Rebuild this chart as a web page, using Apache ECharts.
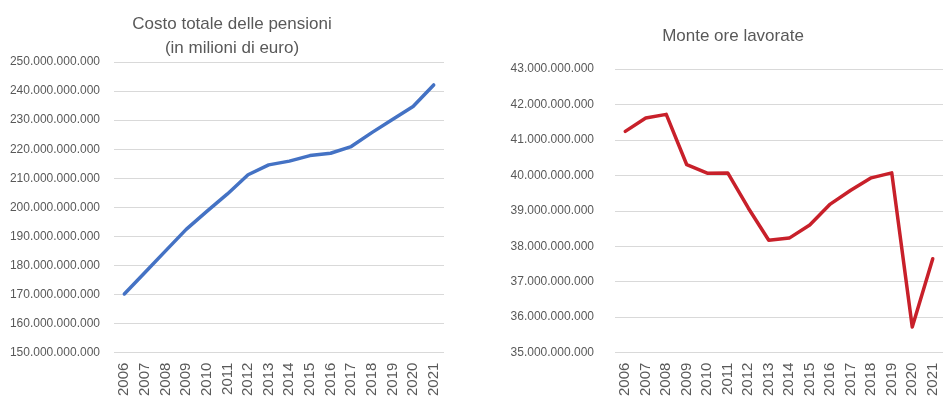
<!DOCTYPE html>
<html>
<head>
<meta charset="UTF-8">
<title>Pensioni e ore lavorate</title>
<script type="text/javascript" src="https://cdn.jsdelivr.net/npm/echarts@6/dist/echarts.min.js"></script>
<style>
    html, body { margin: 0; padding: 0; background: #fff; }
</style>
</head>
<body>
    <div id="main" style="width: 943px; height: 399px;"></div>
    <script type="text/javascript">
        // anni sull'asse x
        var anni = ['2006', '2007', '2008', '2009', '2010', '2011', '2012', '2013',
                    '2014', '2015', '2016', '2017', '2018', '2019', '2020', '2021'];

        // costo totale delle pensioni
        var costoPensioni = [170200000000, 177600000000, 185000000000, 192400000000,
                             198600000000, 204600000000, 211200000000, 214600000000,
                             215900000000, 217800000000, 218600000000, 220900000000,
                             225700000000, 230200000000, 234700000000, 242100000000];

        // monte ore lavorate
        var monteOre = [41240000000, 41620000000, 41720000000, 40300000000,
                        40060000000, 40070000000, 39080000000, 38170000000,
                        38230000000, 38600000000, 39190000000, 39580000000,
                        39930000000, 40070000000, 35720000000, 37650000000];

        var font = 'Liberation Sans';
        var grigio = '#595959';

        // separatore delle migliaia con il punto
        function conPunti(v) {
            return String(Math.round(v)).replace(/\B(?=(\d{3})+(?!\d))/g, '.');
        }

        var myChart = echarts.init(document.getElementById('main'));

        var option = {
            animation: false,
            backgroundColor: '#ffffff',
            title: [{
                text: 'Costo totale delle pensioni\n(in milioni di euro)',
                left: 232, top: 12, padding: 0, textAlign: 'center',
                textStyle: { fontFamily: font, fontSize: 17, fontWeight: 'normal', color: grigio, lineHeight: 24 }
            }, {
                text: 'Monte ore lavorate',
                left: 733, top: 24, padding: 0, textAlign: 'center',
                textStyle: { fontFamily: font, fontSize: 17, fontWeight: 'normal', color: grigio, lineHeight: 24 }
            }],
            grid: [
                { left: 114, top: 62, width: 330, height: 293 },
                { left: 615, top: 69, width: 334, height: 287 }
            ],
            xAxis: [0, 1].map(function (i) {
                return {
                    type: 'category', gridIndex: i, data: anni, boundaryGap: true,
                    axisLine: { show: false }, axisTick: { show: false },
                    axisLabel: { rotate: 90, margin: 10, interval: 0, fontFamily: font, fontSize: 15, color: grigio }
                };
            }),
            yAxis: [{
                type: 'value', gridIndex: 0, min: 150000000000, max: 250000000000, interval: 10000000000,
                axisLine: { show: false }, axisTick: { show: false },
                splitLine: { lineStyle: { color: '#d9d9d9', width: 1 } },
                axisLabel: { margin: 14, fontFamily: font, fontSize: 12, color: grigio, formatter: conPunti }
            }, {
                type: 'value', gridIndex: 1, min: 35000000000, max: 43000000000, interval: 1000000000,
                axisLine: { show: false }, axisTick: { show: false },
                splitLine: { lineStyle: { color: '#d9d9d9', width: 1 } },
                axisLabel: { margin: 21, fontFamily: font, fontSize: 12, color: grigio, formatter: conPunti }
            }],
            series: [{
                name: 'Costo totale delle pensioni', type: 'line',
                xAxisIndex: 0, yAxisIndex: 0, data: costoPensioni,
                showSymbol: false, lineStyle: { color: '#4472c4', width: 3.5, cap: 'round', join: 'round' }
            }, {
                name: 'Monte ore lavorate', type: 'line',
                xAxisIndex: 1, yAxisIndex: 1, data: monteOre,
                showSymbol: false, lineStyle: { color: '#c8202a', width: 3.5, cap: 'round', join: 'round' }
            }]
        };

        myChart.setOption(option);
    </script>
</body>
</html>
